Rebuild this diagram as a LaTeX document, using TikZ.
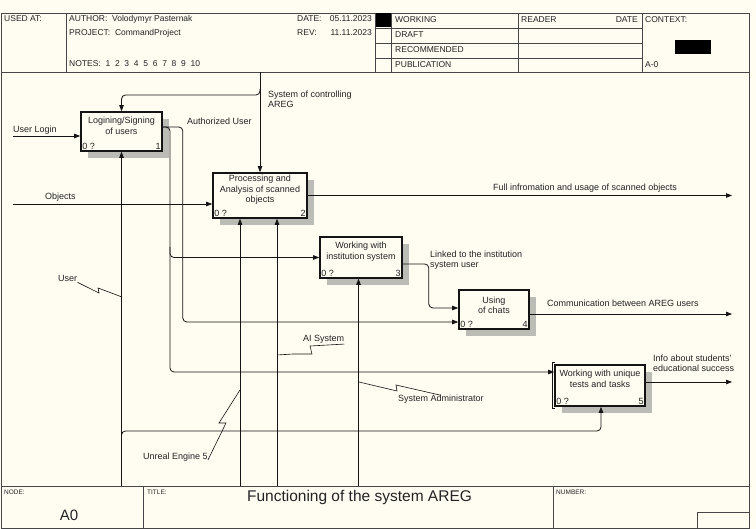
\documentclass[tikz,border=0pt]{standalone}
\usepackage{fontspec}
\setmainfont{Liberation Sans}
\usepackage{tikz}
\usetikzlibrary{arrows.meta,positioning,calc,shadows}
\definecolor{idefpaper}{RGB}{255,252,242}
\definecolor{idefline}{RGB}{20,20,20}
\definecolor{idefframe}{RGB}{70,70,70}
\definecolor{idefshade}{RGB}{188,188,182}
\definecolor{idefink}{RGB}{35,35,35}

\tikzset{
  actbox/.style={draw=idefline,line width=1.6pt,fill=idefpaper,inner sep=0pt,
    drop shadow={shadow xshift=7pt,shadow yshift=-7pt,opacity=1,fill=idefshade}},
  boxtext/.style={align=center,font=\fontsize{9}{10.5}\selectfont,inner sep=0pt,text=idefink},
  boxnum/.style={font=\fontsize{9}{10.5}\selectfont,inner sep=2pt,text=idefink},
  flow/.style={draw=idefline,line width=0.8pt,rounded corners=4pt,
    -{Triangle[length=6pt,width=4.5pt]}},
  squig/.style={draw=idefline,line width=0.6pt},
  arrlabel/.style={font=\fontsize{9}{10.5}\selectfont,inner sep=0pt,text=idefink,align=left},
  hdr/.style={font=\fontsize{8.5}{10}\selectfont,inner sep=0pt,text=idefink,anchor=base west},
  tinyhdr/.style={font=\fontsize{6.5}{8}\selectfont,inner sep=0pt,text=idefink,anchor=base west},
  frame/.style={draw=idefframe,line width=0.8pt}
}

\begin{document}
\begin{tikzpicture}[x=1pt,y=-1pt]
  \useasboundingbox (0,0) rectangle (756,529);
  \fill[idefpaper] (0,0) rectangle (756,529);

  % sheet frame
  \draw[frame] (1,13) rectangle (749,528.5);
  \draw[frame] (1,72) -- (749,72);
  \draw[frame] (1,486) -- (749,486);
  \draw[frame] (66,13) -- (66,72);
  \draw[frame] (375,13) -- (375,72);
  \draw[frame] (391,13) -- (391,72);
  \draw[frame] (518,13) -- (518,72);
  \draw[frame] (642,13) -- (642,72);
  \draw[frame] (375,28) -- (642,28);
  \draw[frame] (375,43) -- (642,43);
  \draw[frame] (375,58) -- (642,58);
  \fill[black] (375.5,13.5) rectangle (390.5,27.5);
  \fill[black] (675,40) rectangle (711,54);
  \draw[frame] (143,486) -- (143,528.5);
  \draw[frame] (553,486) -- (553,528.5);
  \draw[frame] (697,512) rectangle (749,528.5);

  % header texts
  \node[hdr] (usedat) at (4,22) {USED AT:};
  \node[hdr] (author) at (69,22) {AUTHOR:\ \ Volodymyr Pasternak};
  \node[hdr] (project) at (69,36) {PROJECT:\ \ CommandProject};
  \node[hdr] (notes) at (69,67) {NOTES:\ \ 1\ \ 2\ \ 3\ \ 4\ \ 5\ \ 6\ \ 7\ \ 8\ \ 9\ \ 10};
  \node[hdr] (datekey) at (297,22) {DATE:};
  \node[hdr,anchor=base east] (dateval) at (372,22) {05.11.2023};
  \node[hdr] (revkey) at (297,36) {REV:};
  \node[hdr,anchor=base east] (revval) at (372,36) {11.11.2023};
  \node[hdr] (working) at (395,23) {WORKING};
  \node[hdr] (draft) at (395,38) {DRAFT};
  \node[hdr] (recom) at (395,53) {RECOMMENDED};
  \node[hdr] (public) at (395,68) {PUBLICATION};
  \node[hdr] (reader) at (521,23) {READER};
  \node[hdr,anchor=base east] (readdate) at (638,23) {DATE};
  \node[hdr] (context) at (645,23) {CONTEXT:};
  \node[hdr] (ctxnode) at (645,68) {A-0};

  % footer texts
  \node[tinyhdr] (nodekey) at (4,495) {NODE:};
  \node[font=\fontsize{15}{17}\selectfont,inner sep=0pt,text=idefink,anchor=base] (nodeval) at (69,521) {A0};
  \node[tinyhdr] (titlekey) at (147,495) {TITLE:};
  \node[font=\fontsize{15.5}{18}\selectfont,inner sep=0pt,text=idefink,anchor=base] (titleval) at (359.5,502) {Functioning of the system AREG};
  \node[tinyhdr] (numkey) at (556,495) {NUMBER:};

  % activity boxes
  \node[actbox,minimum width=81pt,minimum height=39pt] (logbox) at (121.5,131.5) {};
  \node[actbox,minimum width=94pt,minimum height=45pt] (scanbox) at (260,195.5) {};
  \node[actbox,minimum width=82pt,minimum height=41pt] (instbox) at (361,257.5) {};
  \node[actbox,minimum width=70pt,minimum height=39pt] (chatbox) at (494,309.5) {};
  \node[actbox,minimum width=90pt,minimum height=41pt] (testbox) at (600,385.5) {};
  \draw[idefline,line width=1pt] ([xshift=1pt,yshift=2pt]testbox.north west) -- ([xshift=-2pt,yshift=2pt]testbox.north west)
    -- ([xshift=-2pt,yshift=-2pt]testbox.south west) -- ([xshift=1pt,yshift=-2pt]testbox.south west);

  \node[boxtext] (logtxt) at ([yshift=5.5pt]logbox.center) {Logining/Signing\\of users};
  \node[boxtext] (scantxt) at ([yshift=5.5pt]scanbox.center) {Processing and\\Analysis of scanned\\objects};
  \node[boxtext] (insttxt) at ([yshift=6pt]instbox.center) {Working with\\institution system};
  \node[boxtext] (chattxt) at ([yshift=4pt]chatbox.center) {Using\\of chats};
  \node[boxtext] (testtxt) at ([yshift=6.5pt]testbox.center) {Working with unique\\tests and tasks};

  \node[boxnum,anchor=south west] (logcode) at (logbox.south west) {0 ?};
  \node[boxnum,anchor=south east] (lognum) at (logbox.south east) {1};
  \node[boxnum,anchor=south west] (scancode) at (scanbox.south west) {0 ?};
  \node[boxnum,anchor=south east] (scannum) at (scanbox.south east) {2};
  \node[boxnum,anchor=south west] (instcode) at (instbox.south west) {0 ?};
  \node[boxnum,anchor=south east] (instnum) at (instbox.south east) {3};
  \node[boxnum,anchor=south west] (chatcode) at (chatbox.south west) {0 ?};
  \node[boxnum,anchor=south east] (chatnum) at (chatbox.south east) {4};
  \node[boxnum,anchor=south west] (testcode) at (testbox.south west) {0 ?};
  \node[boxnum,anchor=south east] (testnum) at (testbox.south east) {5};

  % free ends and forks
  \coordinate (loginIn) at (13,136);
  \coordinate (objIn) at (13,204);
  \coordinate (ctrlIn) at (260,72);
  \coordinate (outEnd) at (732,0);
  \coordinate (mechEnd) at (0,486);
  \coordinate (authFork) at (170,127);
  \coordinate (userFork) at (121.5,431);

  % inputs and controls
  \draw[flow] (loginIn) -- (loginIn -| logbox.west);
  \draw[flow] (objIn) -- (objIn -| scanbox.west);
  \draw[flow] (ctrlIn) -- (scanbox.north);
  \draw[flow] (ctrlIn |- 0,89) -- (ctrlIn |- 0,95) -| (logbox.north);

  % outputs
  \draw[flow] (logbox.east |- authFork) -- ++(20,0) |- ([yshift=-12.5pt]chatbox.west);
  \draw[flow] (logbox.east |- authFork) -- (authFork) |- ([yshift=13.5pt]testbox.west);
  \draw[flow] ([yshift=-120pt]authFork) |- (instbox.west);
  \draw[flow] (scanbox.east) -- (scanbox.east -| outEnd);
  \draw[flow] ([yshift=-6.5pt]instbox.east) -- ++(26,0) |- ([yshift=1.5pt]chatbox.west);
  \draw[flow] ([yshift=-4.5pt]chatbox.east) -- ([yshift=-4.5pt]chatbox.east -| outEnd);
  \draw[flow] ([yshift=3.5pt]testbox.east) -- ([yshift=3.5pt]testbox.east -| outEnd);

  % mechanisms
  \draw[flow] (logbox.south |- mechEnd) -- (logbox.south);
  \draw[flow] ([yshift=-5pt]userFork) -- (userFork) -| ([xshift=1pt]testbox.south);
  \draw[flow] ([xshift=-20pt]scanbox.south |- mechEnd) -- ([xshift=-20pt]scanbox.south);
  \draw[flow] ([xshift=17pt]scanbox.south |- mechEnd) -- ([xshift=17pt]scanbox.south);
  \draw[flow] ([xshift=-2.5pt]instbox.south |- mechEnd) -- ([xshift=-2.5pt]instbox.south);

  % arrow labels
  \node[arrlabel,anchor=base west] (loginLbl) at (13,133) {User Login};
  \node[arrlabel,anchor=base west] (objLbl) at (45,200) {Objects};
  \node[arrlabel,anchor=base west] (authLbl) at (187,125) {Authorized User};
  \node[arrlabel,anchor=north west] (ctrlLbl) at (268,90.5) {System of controlling\\AREG};
  \node[arrlabel,anchor=base] (fullLbl) at (585,191) {Full infromation and usage of scanned objects};
  \node[arrlabel,anchor=north west] (linkLbl) at (430,250.5) {Linked to the institution\\system user};
  \node[arrlabel,anchor=base west] (commLbl) at (547,307) {Communication between AREG users};
  \node[arrlabel,anchor=north west] (infoLbl) at (653,354.5) {Info about students'\\educational success};
  \node[arrlabel,anchor=base west] (userLbl) at (58,282) {User};
  \node[arrlabel,anchor=base west] (aiLbl) at (303,342) {AI System};
  \node[arrlabel,anchor=base west] (adminLbl) at (398,402) {System Administrator};
  \node[arrlabel,anchor=base west] (ueLbl) at (143,460) {Unreal Engine 5};

  % squiggles
  \draw[squig] (userLbl.south east) -- (99,293) -- (98,288) -- (122,297);
  \draw[squig] (277,355) -- (293,354) -- (312,354) -- (310,346) -- (aiLbl.south east);
  \draw[squig] (359,382) -- (397,391) -- (396,385) -- (adminLbl.north);
  \draw[squig] (ueLbl.base east) -- (226,423) -- (219,423) -- (240,390);
\end{tikzpicture}
\end{document}
